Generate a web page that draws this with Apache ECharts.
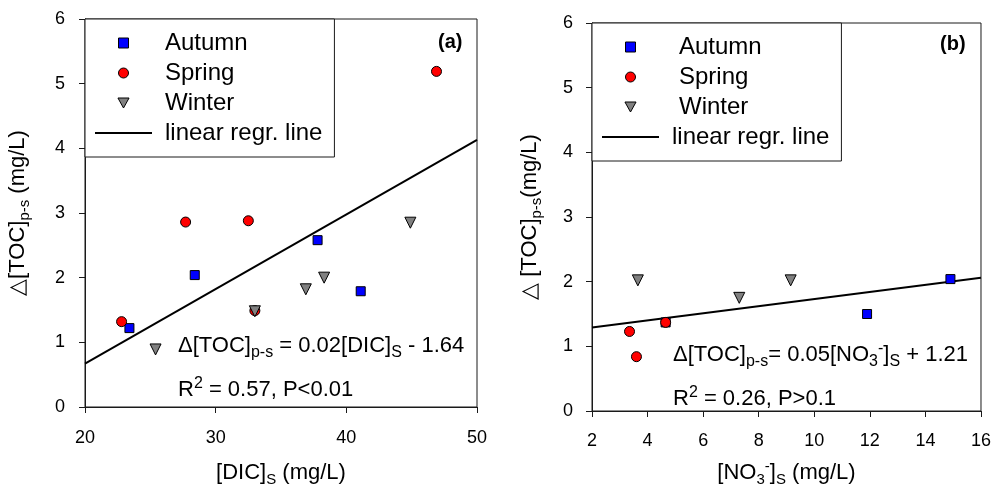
<!DOCTYPE html>
<html><head><meta charset="utf-8">
<script src="https://cdn.jsdelivr.net/npm/echarts@6/dist/echarts.min.js"></script>
<style>html,body{margin:0;padding:0;background:#fff}#c{width:994px;height:492px}</style>
</head><body><div id="c"></div>
<script>
// ---------- data ----------
const seasons = ['Autumn', 'Spring', 'Winter'];
const lineName = 'linear regr. line';

// panel (a): [DIC]s vs Δ[TOC]p-s
const autumnA = [[23.4, 1.22], [28.4, 2.04], [37.8, 2.58], [41.1, 1.79]];
const springA = [[22.8, 1.32], [27.7, 2.86], [32.5, 2.88], [33.0, 1.49], [46.9, 5.19]];
const winterA = [[25.4, 0.89], [33.0, 1.48], [36.9, 1.82], [38.3, 2.00], [44.9, 2.85]];
const regrA = [[20, 0.67], [50, 4.13]];
const xAxisA = { min: 20, max: 50, interval: 10 };

// panel (b): [NO3-]s vs Δ[TOC]p-s
const autumnB = [[4.65, 1.37], [11.9, 1.50], [14.9, 2.04]];
const springB = [[3.35, 1.23], [3.6, 0.84], [4.65, 1.37]];
const winterB = [[3.65, 2.02], [7.3, 1.75], [9.15, 2.02]];
const regrB = [[2, 1.29], [16, 2.06]];
const xAxisB = { min: 2, max: 16, interval: 2 };

const yAxisAB = { min: 0, max: 6, interval: 1 };

// ---------- styles ----------
const FONT = '"Liberation Sans", Arial, sans-serif';
const INK = '#1a1a1a';
const colors = { Autumn: '#0000ff', Spring: '#ff0000', Winter: '#808080' };
const symbols = { Autumn: ['rect', 9, 0], Spring: ['circle', 10, 0], Winter: ['triangle', 11, 180] };
const legendIcons = {
  Autumn: 'path://M0,0H10V10H0Z',
  Spring: 'circle',
  Winter: 'path://M0,0H10L5,9Z'
};

const subRich = (fs) => ({
  sub: { fontSize: fs, fontFamily: FONT, color: '#000', padding: [14, 0, 0, 0] },
  sup: { fontSize: fs, fontFamily: FONT, color: '#000', padding: [0, 0, 12, 0] }
});

function xAxisCfg(grid, range, name, gap, margin) {
  return {
    type: 'value', gridIndex: grid, min: range.min, max: range.max, interval: range.interval,
    name: name, nameLocation: 'middle', nameGap: gap,
    nameTextStyle: { fontSize: 22, fontFamily: FONT, color: '#000', rich: subRich(15) },
    axisLine: { show: true, onZero: false, lineStyle: { color: INK, width: 1 } },
    axisTick: { show: true, inside: false, length: 6, lineStyle: { color: INK } },
    axisLabel: { fontSize: 18, fontFamily: FONT, color: '#000', margin: margin },
    splitLine: { show: false }
  };
}
function yAxisCfg(grid, name, gap, margin) {
  return {
    type: 'value', gridIndex: grid, min: yAxisAB.min, max: yAxisAB.max, interval: yAxisAB.interval,
    name: name, nameLocation: 'middle', nameGap: gap, nameRotate: 90,
    nameTextStyle: { fontSize: 22, fontFamily: FONT, color: '#000', rich: subRich(15) },
    axisLine: { show: true, onZero: false, lineStyle: { color: INK, width: 1 } },
    axisTick: { show: true, inside: false, length: 6, lineStyle: { color: INK } },
    axisLabel: { fontSize: 18, fontFamily: FONT, color: '#000', margin: margin },
    splitLine: { show: false }
  };
}
function scatterSeries(name, data, idx) {
  const s = symbols[name];
  return {
    type: 'scatter', name: name, data: data, xAxisIndex: idx, yAxisIndex: idx,
    symbol: s[0], symbolSize: s[1], symbolRotate: s[2],
    itemStyle: { color: colors[name], borderColor: '#000', borderWidth: 1, opacity: 1 },
    emphasis: { disabled: true }, z: 3
  };
}
function regrSeries(data, idx) {
  return {
    type: 'line', name: lineName, data: data, xAxisIndex: idx, yAxisIndex: idx,
    symbol: 'none', showSymbol: false, lineStyle: { color: '#000', width: 2 },
    itemStyle: { color: '#000' },
    emphasis: { disabled: true }, z: 2
  };
}
function legendCfg(left, top, scatterPad) {
  return {
    left: left, top: top, orient: 'vertical', padding: [12, 12, 12, 10], itemGap: 6,
    itemWidth: 57, itemHeight: 10, borderColor: INK, borderWidth: 1, backgroundColor: '#fff',
    selectedMode: false, z: 10, symbolKeepAspect: true, symbolRotate: 0,
    textStyle: { fontSize: 24, lineHeight: 24, fontFamily: FONT, color: '#000', padding: [0, 0, 0, 8] },
    data: seasons.map(n => ({
      name: n, icon: legendIcons[n], symbolRotate: 0,
      itemStyle: { color: colors[n], borderColor: '#000', borderWidth: 1 },
      textStyle: { padding: [0, 0, 0, scatterPad] }
    })).concat([{
      name: lineName, icon: 'path://M0,0H57V2H0Z',
      itemStyle: { color: '#000', borderWidth: 0 },
      textStyle: { padding: [0, 0, 0, 8] }
    }])
  };
}
function eqText(x, y, text) {
  return {
    type: 'text', x: x, y: y, z: 20,
    style: {
      text: text, fontSize: 22, fontFamily: FONT, fill: '#000',
      rich: {
        sub: { fontSize: 16, fontFamily: FONT, fill: '#000', padding: [14, 0, 0, 0] },
        sup: { fontSize: 16, fontFamily: FONT, fill: '#000', padding: [0, 0, 12, 0] }
      }
    }
  };
}

const chart = echarts.init(document.getElementById('c'), null, { renderer: 'canvas' });
chart.setOption({
  animation: false,
  backgroundColor: '#fff',
  grid: [
    { left: 85, top: 19, width: 392, height: 390, show: true, borderColor: INK, borderWidth: 1, backgroundColor: 'transparent' },
    { left: 592, top: 23, width: 390, height: 390, show: true, borderColor: INK, borderWidth: 1, backgroundColor: 'transparent' }
  ],
  xAxis: [
    xAxisCfg(0, xAxisA, '[DIC]{sub|S} (mg/L)', 51, 22),
    xAxisCfg(1, xAxisB, '[NO{sub|3}{sup|-}]{sub|S} (mg/L)', 47, 21)
  ],
  yAxis: [
    yAxisCfg(0, '△[TOC]{sub|p-s} (mg/L)', 53, 20),
    yAxisCfg(1, '△ [TOC]{sub|p-s}(mg/L)', 48, 19)
  ],
  legend: [legendCfg(85, 19, 8), legendCfg(592, 23, 15)],
  series: [
    regrSeries(regrA, 0),
    scatterSeries('Autumn', autumnA, 0),
    scatterSeries('Spring', springA, 0),
    scatterSeries('Winter', winterA, 0),
    regrSeries(regrB, 1),
    scatterSeries('Autumn', autumnB, 1),
    scatterSeries('Spring', springB, 1),
    scatterSeries('Winter', winterB, 1)
  ],
  graphic: [
    { type: 'text', x: 438, y: 32, z: 20, style: { text: '(a)', fontSize: 20, fontWeight: 'bold', fontFamily: FONT, fill: '#000' } },
    { type: 'text', x: 940, y: 34, z: 20, style: { text: '(b)', fontSize: 20, fontWeight: 'bold', fontFamily: FONT, fill: '#000' } },
    eqText(178, 331, 'Δ[TOC]{sub|p-s} = 0.02[DIC]{sub|S} - 1.64'),
    eqText(178, 376, 'R{sup|2} = 0.57, P<0.01'),
    eqText(673, 340, 'Δ[TOC]{sub|p-s}= 0.05[NO{sub|3}{sup|-}]{sub|S} + 1.21'),
    eqText(673, 385, 'R{sup|2} = 0.26, P>0.1')
  ]
});
</script>
</body></html>
